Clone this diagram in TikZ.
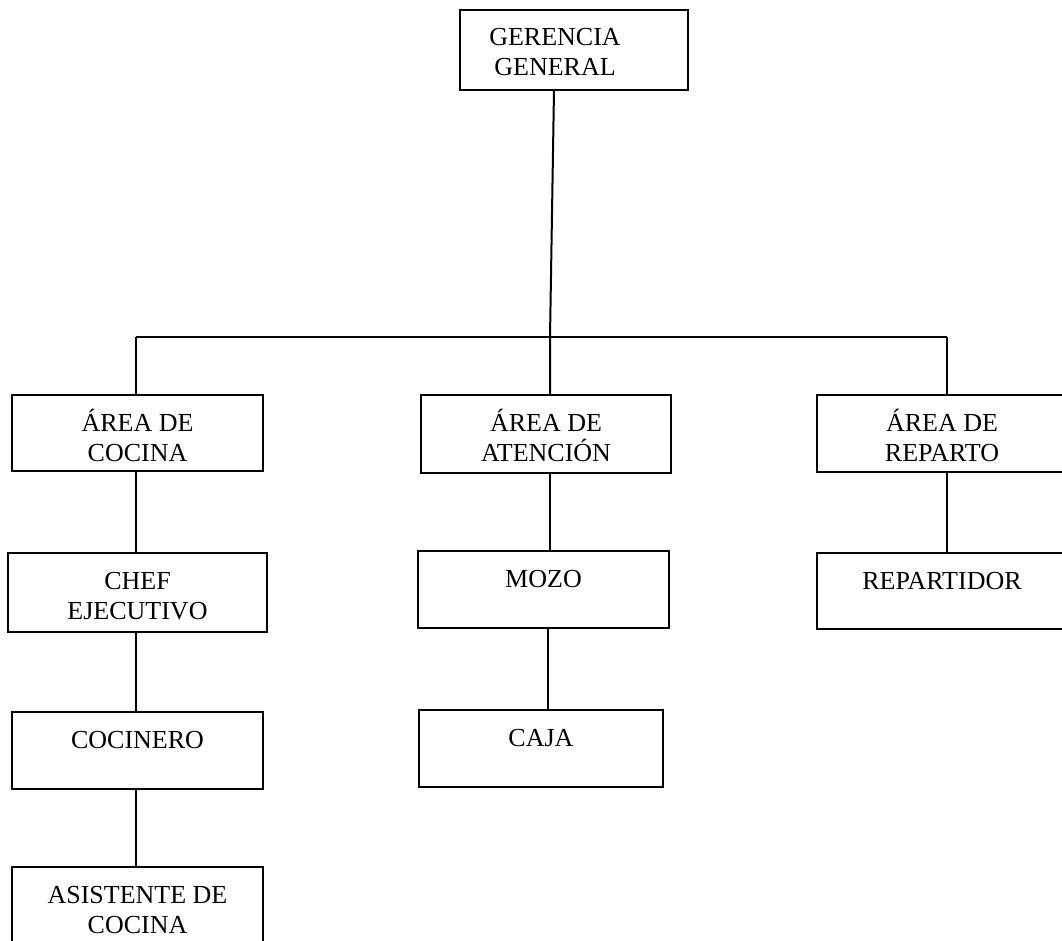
\documentclass[tikz,border=0pt]{standalone}
\usepackage{fontspec}
\setmainfont{Liberation Serif}
\newcommand{\bxt}[5]{\parbox[c][#2][t]{#1}{\fontsize{26}{30}\selectfont\centering\leftskip=#3 plus 1fil\rightskip=#4 plus 1fil\rule{0pt}{36pt}#5}}
\begin{document}
\begin{tikzpicture}[x=1pt,y=-1pt,
  box/.style={draw=black,line width=2pt,inner sep=0pt,outer sep=0pt,rectangle},
  conn/.style={draw=black,line width=2pt}]
\useasboundingbox (0,0) rectangle (1062,941);
\clip (0,0) rectangle (1062,941);
% boxes
\node[box] (gg) at (574,50) {\bxt{228pt}{80pt}{0pt}{38pt}{GERENCIA\\GENERAL}};
\node[box] (cocina) at (137.5,433) {\bxt{251pt}{76pt}{0pt}{0pt}{ÁREA DE\\COCINA}};
\node[box] (atencion) at (546,434) {\bxt{250pt}{78pt}{0pt}{0pt}{ÁREA DE\\ATENCIÓN}};
\node[box] (reparto) at (946,433.5) {\bxt{258pt}{77pt}{0pt}{8pt}{ÁREA DE\\REPARTO}};
\node[box] (chef) at (137.5,592.5) {\bxt{259pt}{79pt}{0pt}{0pt}{CHEF\\EJECUTIVO}};
\node[box] (mozo) at (543.5,589.5) {\bxt{251pt}{77pt}{0pt}{0pt}{MOZO}};
\node[box] (repartidor) at (946,591) {\bxt{258pt}{76pt}{0pt}{8pt}{REPARTIDOR}};
\node[box] (cocinero) at (137.5,750.5) {\bxt{251pt}{77pt}{0pt}{0pt}{COCINERO}};
\node[box] (caja) at (541,748.5) {\bxt{244pt}{77pt}{0pt}{0pt}{CAJA}};
\node[box] (asistente) at (137.5,913.5) {\bxt{251pt}{93pt}{0pt}{0pt}{ASISTENTE DE\\COCINA}};
% junctions
\coordinate (j) at (550,337);
\coordinate (jl) at (136,337);
\coordinate (jr) at (947,337);
\coordinate (jm) at (548,337);
% connectors
\draw[conn] ([xshift=-20pt]gg.south) -- (j) -- (j |- atencion.north);
\draw[conn] (jl) -- (jr);
\draw[conn] (jl) -- (jl |- cocina.north);
\draw[conn] (jr) -- (jr |- reparto.north);
\draw[conn] (jl |- cocina.south) -- (jl |- chef.north);
\draw[conn] (jl |- chef.south) -- (jl |- cocinero.north);
\draw[conn] (jl |- cocinero.south) -- (jl |- asistente.north);
\draw[conn] (j |- atencion.south) -- (j |- mozo.north);
\draw[conn] (jm |- mozo.south) -- (jm |- caja.north);
\draw[conn] (jr |- reparto.south) -- (jr |- repartidor.north);
\end{tikzpicture}
\end{document}
